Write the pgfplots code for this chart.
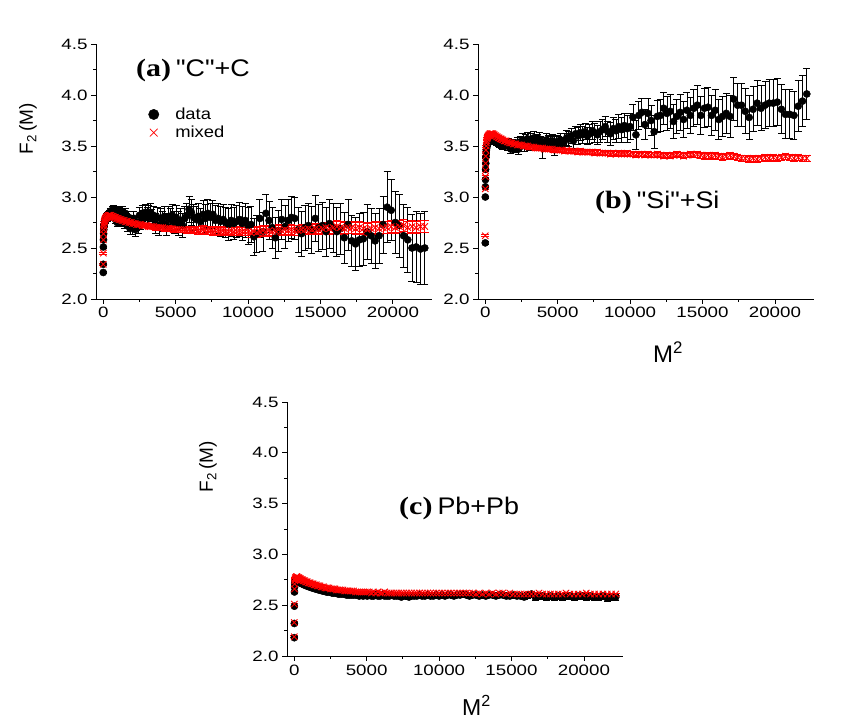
\documentclass[border=0pt]{standalone}
\usepackage{fontspec}
\setmainfont{Liberation Sans}
\newfontfamily\sfx{Liberation Sans}
\newfontfamily\tnr{Liberation Serif}
\usepackage{graphicx}
\usepackage{pgfplots}
\usepackage{pgfplotstable}
\pgfplotsset{compat=1.18}

% panel (a) "C"+C : x = M^2, yd/ed = data, ym/em = mixed
\pgfplotstableread{
x yd ed ym em
1 2.26 0.01 2.34 0.01
4 2.34 0.01 2.45 0.01
9 2.51 0.01 2.58 0.01
16 2.58 0.01 2.64 0.01
25 2.64 0.01 2.68 0.01
36 2.68 0.02 2.71 0.01
49 2.71 0.02 2.73 0.01
64 2.73 0.02 2.75 0.01
81 2.74 0.02 2.76 0.01
100 2.76 0.02 2.77 0.01
121 2.77 0.02 2.78 0.01
144 2.76 0.02 2.79 0.01
169 2.79 0.02 2.79 0.01
196 2.78 0.02 2.80 0.01
225 2.80 0.03 2.80 0.01
256 2.81 0.03 2.81 0.01
289 2.79 0.03 2.81 0.01
324 2.82 0.03 2.81 0.01
361 2.83 0.03 2.82 0.01
400 2.80 0.03 2.82 0.01
441 2.84 0.03 2.82 0.015
484 2.86 0.03 2.82 0.015
529 2.82 0.03 2.82 0.015
576 2.86 0.03 2.81 0.015
625 2.87 0.04 2.81 0.015
676 2.84 0.04 2.81 0.015
729 2.88 0.04 2.80 0.015
784 2.86 0.04 2.80 0.015
841 2.78 0.04 2.80 0.015
900 2.86 0.04 2.79 0.015
961 2.75 0.04 2.79 0.015
1024 2.87 0.04 2.79 0.015
1089 2.77 0.05 2.78 0.015
1156 2.85 0.05 2.78 0.015
1225 2.76 0.05 2.78 0.015
1296 2.86 0.05 2.77 0.015
1369 2.80 0.05 2.77 0.015
1444 2.74 0.05 2.77 0.015
1521 2.84 0.05 2.76 0.015
1600 2.78 0.06 2.76 0.015
1681 2.72 0.06 2.76 0.02
1764 2.80 0.06 2.75 0.02
1849 2.69 0.06 2.75 0.02
1936 2.76 0.06 2.75 0.02
2025 2.70 0.07 2.74 0.02
2116 2.79 0.07 2.74 0.02
2209 2.68 0.07 2.74 0.02
2304 2.74 0.07 2.73 0.02
2401 2.71 0.07 2.73 0.02
2500 2.82 0.08 2.73 0.02
2601 2.76 0.08 2.73 0.02
2704 2.84 0.08 2.72 0.02
2809 2.79 0.08 2.72 0.02
2916 2.85 0.08 2.72 0.02
3025 2.81 0.09 2.72 0.02
3136 2.83 0.09 2.71 0.02
3249 2.85 0.09 2.71 0.02
3364 2.79 0.09 2.71 0.02
3481 2.82 0.09 2.71 0.02
3600 2.74 0.10 2.70 0.02
3721 2.80 0.10 2.70 0.03
3844 2.72 0.10 2.70 0.03
3969 2.79 0.10 2.70 0.03
4096 2.76 0.10 2.70 0.03
4225 2.81 0.10 2.69 0.03
4356 2.73 0.11 2.69 0.03
4489 2.80 0.11 2.69 0.03
4624 2.78 0.11 2.69 0.03
4761 2.82 0.11 2.69 0.03
4900 2.75 0.11 2.68 0.03
5041 2.80 0.12 2.68 0.03
5184 2.74 0.12 2.68 0.03
5329 2.77 0.12 2.68 0.03
5476 2.72 0.12 2.68 0.03
5625 2.79 0.12 2.68 0.03
5776 2.82 0.12 2.67 0.03
5929 2.88 0.13 2.68 0.03
6084 2.85 0.13 2.67 0.03
6241 2.80 0.13 2.67 0.03
6400 2.78 0.13 2.68 0.03
6561 2.81 0.13 2.67 0.04
6724 2.76 0.13 2.67 0.04
6889 2.83 0.14 2.68 0.04
7056 2.79 0.14 2.67 0.04
7225 2.84 0.14 2.67 0.04
7396 2.80 0.14 2.67 0.04
7569 2.83 0.14 2.66 0.04
7744 2.77 0.15 2.67 0.04
7921 2.79 0.15 2.67 0.04
8100 2.76 0.15 2.66 0.04
8281 2.78 0.15 2.67 0.04
8464 2.75 0.15 2.66 0.04
8649 2.73 0.16 2.66 0.04
8836 2.77 0.16 2.67 0.04
9025 2.74 0.16 2.66 0.04
9216 2.76 0.16 2.66 0.04
9409 2.78 0.17 2.67 0.04
9604 2.74 0.17 2.66 0.04
9801 2.77 0.17 2.66 0.04
10000 2.72 0.18 2.66 0.04
10201 2.73 0.18 2.65 0.05
10404 2.61 0.18 2.66 0.05
10609 2.64 0.18 2.65 0.05
10816 2.79 0.19 2.66 0.05
11025 2.66 0.19 2.67 0.05
11236 2.84 0.19 2.66 0.05
11449 2.77 0.19 2.67 0.05
11664 2.70 0.20 2.66 0.05
11881 2.60 0.20 2.67 0.05
12100 2.67 0.20 2.68 0.05
12321 2.78 0.20 2.67 0.05
12544 2.71 0.21 2.68 0.05
12769 2.77 0.21 2.67 0.05
12996 2.80 0.21 2.68 0.05
13225 2.79 0.21 2.67 0.05
13456 2.68 0.22 2.67 0.05
13689 2.64 0.22 2.68 0.05
13924 2.70 0.22 2.68 0.05
14161 2.72 0.22 2.69 0.05
14400 2.68 0.23 2.68 0.05
14641 2.79 0.23 2.69 0.05
14884 2.70 0.23 2.68 0.05
15129 2.72 0.23 2.69 0.05
15376 2.66 0.24 2.70 0.05
15625 2.74 0.24 2.69 0.06
15876 2.70 0.24 2.70 0.06
16129 2.66 0.24 2.71 0.06
16384 2.69 0.25 2.70 0.06
16641 2.60 0.25 2.69 0.06
16900 2.73 0.25 2.70 0.06
17161 2.57 0.25 2.70 0.06
17424 2.54 0.26 2.69 0.06
17689 2.58 0.26 2.70 0.06
17956 2.59 0.26 2.69 0.06
18225 2.66 0.27 2.68 0.06
18496 2.62 0.27 2.69 0.06
18769 2.57 0.27 2.70 0.06
19044 2.62 0.27 2.69 0.06
19321 2.73 0.28 2.70 0.06
19600 2.90 0.35 2.70 0.06
19881 2.87 0.30 2.71 0.06
20164 2.75 0.30 2.70 0.06
20449 2.72 0.31 2.71 0.06
20736 2.62 0.31 2.72 0.06
21025 2.58 0.32 2.70 0.06
21316 2.50 0.33 2.71 0.06
21609 2.51 0.35 2.70 0.06
21904 2.49 0.35 2.71 0.06
22201 2.50 0.36 2.71 0.06
}\tabA

% panel (b) "Si"+Si
\pgfplotstableread{
x yd ed ym em
1 2.55 0.01 2.62 0.01
4 3.00 0.01 3.08 0.01
9 3.10 0.01 3.20 0.01
16 3.17 0.01 3.26 0.01
25 3.27 0.01 3.33 0.01
36 3.33 0.01 3.40 0.01
49 3.39 0.01 3.46 0.01
64 3.43 0.01 3.50 0.01
81 3.46 0.01 3.53 0.01
100 3.48 0.01 3.55 0.01
121 3.50 0.01 3.57 0.015
144 3.51 0.01 3.58 0.015
169 3.52 0.01 3.59 0.015
196 3.53 0.01 3.60 0.015
225 3.54 0.01 3.60 0.015
256 3.54 0.01 3.61 0.015
289 3.55 0.01 3.61 0.015
324 3.55 0.01 3.62 0.015
361 3.55 0.01 3.62 0.015
400 3.56 0.01 3.62 0.015
441 3.56 0.02 3.62 0.015
484 3.56 0.02 3.62 0.015
529 3.55 0.02 3.62 0.015
576 3.55 0.02 3.61 0.015
625 3.55 0.02 3.61 0.015
676 3.54 0.02 3.60 0.015
729 3.54 0.02 3.60 0.015
784 3.53 0.02 3.59 0.015
841 3.53 0.02 3.59 0.015
900 3.52 0.02 3.58 0.015
961 3.52 0.035 3.58 0.015
1024 3.53 0.035 3.57 0.015
1089 3.51 0.035 3.57 0.015
1156 3.52 0.035 3.56 0.015
1225 3.50 0.035 3.56 0.015
1296 3.53 0.035 3.55 0.015
1369 3.51 0.035 3.55 0.015
1444 3.52 0.04 3.55 0.015
1521 3.50 0.04 3.54 0.015
1600 3.53 0.04 3.54 0.015
1681 3.50 0.045 3.53 0.02
1764 3.47 0.045 3.53 0.02
1849 3.52 0.045 3.53 0.02
1936 3.49 0.045 3.52 0.02
2025 3.51 0.045 3.52 0.02
2116 3.48 0.045 3.52 0.02
2209 3.53 0.05 3.51 0.02
2304 3.47 0.05 3.51 0.02
2401 3.54 0.05 3.51 0.02
2500 3.50 0.05 3.51 0.02
2601 3.56 0.06 3.50 0.02
2704 3.51 0.06 3.50 0.02
2809 3.55 0.06 3.50 0.02
2916 3.57 0.06 3.50 0.02
3025 3.52 0.06 3.49 0.02
3136 3.56 0.06 3.49 0.02
3249 3.53 0.06 3.49 0.02
3364 3.58 0.06 3.49 0.02
3481 3.54 0.065 3.48 0.02
3600 3.55 0.065 3.48 0.02
3721 3.57 0.065 3.48 0.02
3844 3.53 0.065 3.48 0.02
3969 3.48 0.10 3.48 0.02
4096 3.52 0.065 3.47 0.02
4225 3.56 0.065 3.47 0.02
4356 3.54 0.065 3.47 0.02
4489 3.53 0.065 3.47 0.02
4624 3.55 0.065 3.47 0.02
4761 3.50 0.09 3.46 0.02
4900 3.54 0.065 3.46 0.02
5041 3.53 0.065 3.46 0.02
5184 3.56 0.065 3.46 0.02
5329 3.51 0.07 3.46 0.02
5476 3.55 0.07 3.45 0.02
5625 3.58 0.07 3.46 0.02
5776 3.57 0.07 3.45 0.02
5929 3.60 0.07 3.45 0.02
6084 3.55 0.07 3.45 0.02
6241 3.62 0.07 3.45 0.02
6400 3.60 0.08 3.44 0.02
6561 3.63 0.08 3.45 0.025
6724 3.61 0.08 3.44 0.025
6889 3.64 0.08 3.44 0.025
7056 3.60 0.08 3.44 0.025
7225 3.62 0.09 3.44 0.025
7396 3.65 0.09 3.44 0.025
7569 3.63 0.09 3.43 0.025
7744 3.61 0.09 3.44 0.025
7921 3.64 0.10 3.43 0.025
8100 3.66 0.10 3.43 0.025
8281 3.69 0.10 3.43 0.025
8464 3.64 0.10 3.43 0.025
8649 3.62 0.11 3.42 0.025
8836 3.67 0.11 3.43 0.025
9025 3.65 0.11 3.42 0.025
9216 3.69 0.12 3.43 0.025
9409 3.66 0.12 3.42 0.025
9604 3.70 0.12 3.42 0.025
9801 3.67 0.13 3.43 0.025
10000 3.69 0.13 3.42 0.025
10201 3.78 0.13 3.42 0.025
10404 3.61 0.14 3.41 0.025
10609 3.80 0.14 3.42 0.025
10816 3.83 0.14 3.42 0.025
11025 3.71 0.15 3.41 0.025
11236 3.82 0.15 3.42 0.025
11449 3.75 0.15 3.41 0.025
11664 3.64 0.16 3.41 0.025
11881 3.79 0.16 3.42 0.025
12100 3.80 0.16 3.41 0.025
12321 3.87 0.16 3.40 0.025
12544 3.82 0.17 3.41 0.025
12769 3.84 0.17 3.40 0.025
12996 3.74 0.17 3.41 0.025
13225 3.79 0.17 3.42 0.025
13456 3.83 0.18 3.41 0.025
13689 3.76 0.18 3.40 0.025
13924 3.85 0.18 3.41 0.025
14161 3.80 0.18 3.42 0.025
14400 3.87 0.18 3.41 0.025
14641 3.90 0.19 3.42 0.03
14884 3.80 0.19 3.41 0.03
15129 3.87 0.19 3.40 0.03
15376 3.88 0.19 3.41 0.03
15625 3.80 0.20 3.40 0.03
15876 3.85 0.20 3.41 0.03
16129 3.76 0.20 3.40 0.03
16384 3.79 0.20 3.39 0.03
16641 3.82 0.20 3.40 0.03
16900 3.79 0.21 3.41 0.03
17161 3.96 0.21 3.40 0.03
17424 3.90 0.21 3.39 0.03
17689 3.90 0.21 3.38 0.03
17956 3.84 0.22 3.38 0.03
18225 3.78 0.22 3.37 0.03
18496 3.86 0.22 3.38 0.03
18769 3.92 0.22 3.37 0.03
19044 3.87 0.22 3.38 0.03
19321 3.90 0.23 3.39 0.03
19600 3.92 0.23 3.38 0.03
19881 3.92 0.23 3.39 0.03
20164 3.93 0.23 3.38 0.03
20449 3.86 0.24 3.39 0.03
20736 3.81 0.24 3.40 0.03
21025 3.81 0.24 3.39 0.03
21316 3.80 0.24 3.38 0.03
21609 3.89 0.25 3.39 0.03
21904 3.94 0.25 3.38 0.03
22201 4.01 0.25 3.38 0.03
}\tabB

% panel (c) Pb+Pb
\pgfplotstableread{
x yd ed ym em
1 2.18 0.01 2.19 0.01
4 2.32 0.01 2.33 0.01
9 2.49 0.01 2.51 0.01
16 2.63 0.01 2.66 0.01
25 2.68 0.01 2.71 0.01
36 2.71 0.01 2.74 0.01
49 2.72 0.01 2.75 0.01
64 2.73 0.01 2.76 0.01
81 2.74 0.01 2.77 0.01
100 2.74 0.01 2.77 0.01
121 2.74 0.01 2.77 0.01
144 2.74 0.01 2.78 0.01
169 2.74 0.01 2.78 0.01
196 2.74 0.01 2.78 0.01
225 2.74 0.01 2.77 0.01
256 2.73 0.01 2.77 0.01
289 2.73 0.01 2.77 0.01
324 2.73 0.01 2.77 0.01
361 2.73 0.01 2.76 0.01
400 2.72 0.01 2.76 0.01
441 2.72 0.01 2.76 0.01
484 2.72 0.01 2.75 0.01
529 2.71 0.01 2.75 0.01
576 2.71 0.01 2.75 0.01
625 2.71 0.01 2.74 0.01
676 2.70 0.01 2.74 0.01
729 2.70 0.01 2.74 0.01
784 2.70 0.01 2.73 0.01
841 2.69 0.01 2.73 0.01
900 2.69 0.01 2.73 0.01
961 2.69 0.01 2.72 0.01
1024 2.68 0.01 2.72 0.01
1089 2.68 0.01 2.72 0.01
1156 2.68 0.01 2.71 0.01
1225 2.67 0.01 2.71 0.01
1296 2.67 0.01 2.71 0.01
1369 2.67 0.01 2.70 0.01
1444 2.66 0.01 2.70 0.01
1521 2.66 0.01 2.70 0.01
1600 2.66 0.01 2.69 0.01
1681 2.65 0.01 2.69 0.01
1764 2.65 0.01 2.69 0.01
1849 2.65 0.01 2.68 0.01
1936 2.64 0.01 2.68 0.01
2025 2.64 0.01 2.68 0.01
2116 2.64 0.01 2.67 0.01
2209 2.63 0.01 2.67 0.01
2304 2.63 0.01 2.67 0.01
2401 2.63 0.01 2.67 0.01
2500 2.63 0.01 2.66 0.01
2601 2.62 0.01 2.66 0.01
2704 2.62 0.01 2.66 0.01
2809 2.62 0.01 2.66 0.01
2916 2.62 0.01 2.65 0.01
3025 2.61 0.01 2.65 0.01
3136 2.61 0.01 2.65 0.01
3249 2.61 0.01 2.65 0.01
3364 2.61 0.01 2.65 0.01
3481 2.61 0.01 2.64 0.01
3600 2.60 0.01 2.64 0.01
3721 2.60 0.01 2.64 0.01
3844 2.60 0.01 2.64 0.01
3969 2.60 0.01 2.64 0.01
4096 2.60 0.01 2.64 0.01
4225 2.60 0.01 2.63 0.01
4356 2.60 0.01 2.63 0.01
4489 2.59 0.01 2.63 0.01
4624 2.60 0.01 2.63 0.01
4761 2.59 0.01 2.63 0.01
4900 2.60 0.01 2.63 0.01
5041 2.59 0.01 2.63 0.01
5184 2.60 0.01 2.63 0.01
5329 2.59 0.01 2.62 0.01
5476 2.59 0.01 2.63 0.01
5625 2.60 0.01 2.62 0.01
5776 2.59 0.01 2.63 0.01
5929 2.59 0.01 2.62 0.01
6084 2.60 0.01 2.62 0.01
6241 2.59 0.01 2.63 0.01
6400 2.59 0.01 2.62 0.01
6561 2.59 0.01 2.62 0.01
6724 2.60 0.01 2.62 0.01
6889 2.59 0.01 2.62 0.01
7056 2.59 0.01 2.62 0.01
7225 2.59 0.01 2.62 0.01
7396 2.58 0.01 2.62 0.01
7569 2.59 0.01 2.62 0.01
7744 2.59 0.02 2.62 0.01
7921 2.58 0.02 2.62 0.01
8100 2.59 0.02 2.62 0.01
8281 2.59 0.02 2.62 0.01
8464 2.59 0.02 2.62 0.01
8649 2.60 0.02 2.62 0.01
8836 2.59 0.02 2.62 0.01
9025 2.59 0.02 2.62 0.01
9216 2.60 0.02 2.62 0.01
9409 2.59 0.02 2.62 0.01
9604 2.59 0.02 2.62 0.01
9801 2.60 0.02 2.62 0.01
10000 2.59 0.02 2.62 0.01
10201 2.60 0.02 2.62 0.01
10404 2.59 0.02 2.62 0.01
10609 2.60 0.02 2.62 0.01
10816 2.60 0.02 2.62 0.01
11025 2.59 0.02 2.62 0.01
11236 2.60 0.02 2.62 0.01
11449 2.60 0.02 2.62 0.01
11664 2.61 0.02 2.62 0.01
11881 2.60 0.02 2.62 0.01
12100 2.59 0.02 2.62 0.01
12321 2.60 0.02 2.62 0.01
12544 2.60 0.02 2.61 0.01
12769 2.59 0.02 2.62 0.01
12996 2.60 0.02 2.61 0.01
13225 2.59 0.02 2.62 0.01
13456 2.60 0.02 2.61 0.01
13689 2.60 0.02 2.62 0.01
13924 2.59 0.02 2.61 0.01
14161 2.60 0.02 2.62 0.01
14400 2.60 0.02 2.62 0.01
14641 2.59 0.02 2.61 0.01
14884 2.59 0.02 2.62 0.01
15129 2.60 0.02 2.61 0.01
15376 2.59 0.02 2.61 0.01
15625 2.59 0.02 2.61 0.01
15876 2.58 0.02 2.61 0.01
16129 2.60 0.03 2.61 0.01
16384 2.61 0.03 2.61 0.01
16641 2.58 0.03 2.61 0.01
16900 2.59 0.03 2.62 0.01
17161 2.59 0.03 2.61 0.01
17424 2.58 0.03 2.61 0.01
17689 2.59 0.03 2.61 0.01
17956 2.58 0.03 2.61 0.01
18225 2.59 0.03 2.61 0.01
18496 2.58 0.03 2.61 0.01
18769 2.59 0.03 2.62 0.01
19044 2.59 0.03 2.61 0.01
19321 2.58 0.03 2.61 0.01
19600 2.59 0.03 2.61 0.01
19881 2.59 0.03 2.61 0.01
20164 2.58 0.03 2.62 0.01
20449 2.59 0.03 2.61 0.01
20736 2.58 0.03 2.61 0.01
21025 2.58 0.03 2.61 0.01
21316 2.59 0.03 2.61 0.01
21609 2.57 0.03 2.61 0.01
21904 2.58 0.03 2.61 0.01
22201 2.58 0.03 2.61 0.01
}\tabC

\pgfplotsset{
  panel/.style={
    anchor=south west, scale only axis, width=336pt, height=255pt,
    xmin=-500, xmax=22700, ymin=2, ymax=4.5,
    axis lines*=left, tick align=outside,
    xtick={0,5000,10000,15000,20000}, ytick={2,2.5,3,3.5,4,4.5},
    scaled x ticks=false, scaled y ticks=false,
    minor x tick num=1, minor y tick num=1,
    major tick length=5pt, minor tick length=3pt,
    tick style={black, line width=0.8pt},
    axis line style={black, line width=0.9pt},
    tick label style={font=\sfx\fontsize{15}{18}\selectfont},
    xticklabel={\mbox{\sfx\fontsize{15}{18}\selectfont\scalebox{1.25}[1]{\pgfmathprintnumber[assume math mode=true, set thousands separator={}]{\tick}}}},
    yticklabel={\mbox{\sfx\fontsize{15}{18}\selectfont\scalebox{1.25}[1]{\pgfmathprintnumber[assume math mode=true, fixed, fixed zerofill, precision=1]{\tick}}}},
  },
  dat/.style={only marks, mark=*, mark size=3.6pt, black,
    legend image code/.code={\path[draw=none,fill=none] (0pt,-2pt) rectangle (28pt,2pt);
      \draw[mark repeat=2,mark phase=2,##1,mark size=5.2pt]
      plot coordinates {(0pt,0pt) (8.5pt,0pt) (28pt,0pt)};},
    error bars/.cd, y dir=both, y explicit,
    error bar style={black, line width=0.8pt},
    error mark options={black, rotate=90, mark size=3.5pt, line width=0.8pt}},
  mix/.style={only marks, mark=x, mark size=4.5pt, red, line width=0.9pt,
    legend image code/.code={\path[draw=none,fill=none] (0pt,-2pt) rectangle (28pt,2pt);
      \draw[mark repeat=2,mark phase=2,##1,mark size=5.5pt,line width=0.7pt]
      plot coordinates {(0pt,0pt) (8.5pt,0pt) (28pt,0pt)};},
    error bars/.cd, y dir=both, y explicit,
    error bar style={red, line width=0.8pt},
    error mark options={red, rotate=90, mark size=3.8pt, line width=0.8pt}},
}

\newcommand{\ttl}[2]{{\tnr\bfseries\fontsize{25}{28}\selectfont\scalebox{1.2}[1]{#1}}\hspace{5pt}{\sfx\fontsize{24}{28}\selectfont\scalebox{1.12}[1]{#2}}}

\begin{document}
\begin{tikzpicture}
\useasboundingbox (0pt,0pt) rectangle (841pt,722pt);

% ---------- (a)
\begin{axis}[panel, at={(96pt,423pt)},
  legend style={at={(axis description cs:0.146,0.758)}, anchor=north west,
    draw=none, fill=none, font=\sfx\fontsize{16}{18}\selectfont,
    row sep=1pt, inner sep=0pt, cells={anchor=west}},
]
\addplot[dat] table[x=x, y=yd, y error=ed] {\tabA};
\addlegendentry{\scalebox{1.15}[1]{data}}
\addplot[mix] table[x=x, y=ym, y error=em] {\tabA};
\addlegendentry{\scalebox{1.15}[1]{mixed}}
\end{axis}

% ---------- (b)
\begin{axis}[panel, at={(478pt,423pt)}]
\addplot[dat] table[x=x, y=yd, y error=ed] {\tabB};
\addplot[mix] table[x=x, y=ym, y error=em] {\tabB};
\end{axis}

% ---------- (c)
\begin{axis}[panel, at={(287pt,66pt)}, height=254pt]
\addplot[dat] table[x=x, y=yd, y error=ed] {\tabC};
\addplot[mix] table[x=x, y=ym, y error=em] {\tabC};
\end{axis}

% titles
\node[anchor=west, inner sep=0pt] at (136pt,652pt) {\ttl{(a)}{"C"+C}};
\node[anchor=west, inner sep=0pt] at (595pt,520pt) {\ttl{(b)}{"Si"+Si}};
\node[anchor=west, inner sep=0pt] at (399pt,214pt) {\ttl{(c)}{Pb+Pb}};

% axis labels
\node[rotate=90, inner sep=0pt, font=\sfx\fontsize{19}{22}\selectfont] at (28pt,593pt)
  {F\textsubscript{2}\,(M)};
\node[rotate=90, inner sep=0pt, font=\sfx\fontsize{19}{22}\selectfont] at (208pt,255pt)
  {F\textsubscript{2}\,(M)};
\node[anchor=base west, inner sep=0pt, font=\sfx\fontsize{24}{26}\selectfont] at (653pt,359pt)
  {M\textsuperscript{2}};
\node[anchor=base west, inner sep=0pt, font=\sfx\fontsize{23}{26}\selectfont] at (462pt,6pt)
  {M\textsuperscript{2}};
\end{tikzpicture}
\end{document}
